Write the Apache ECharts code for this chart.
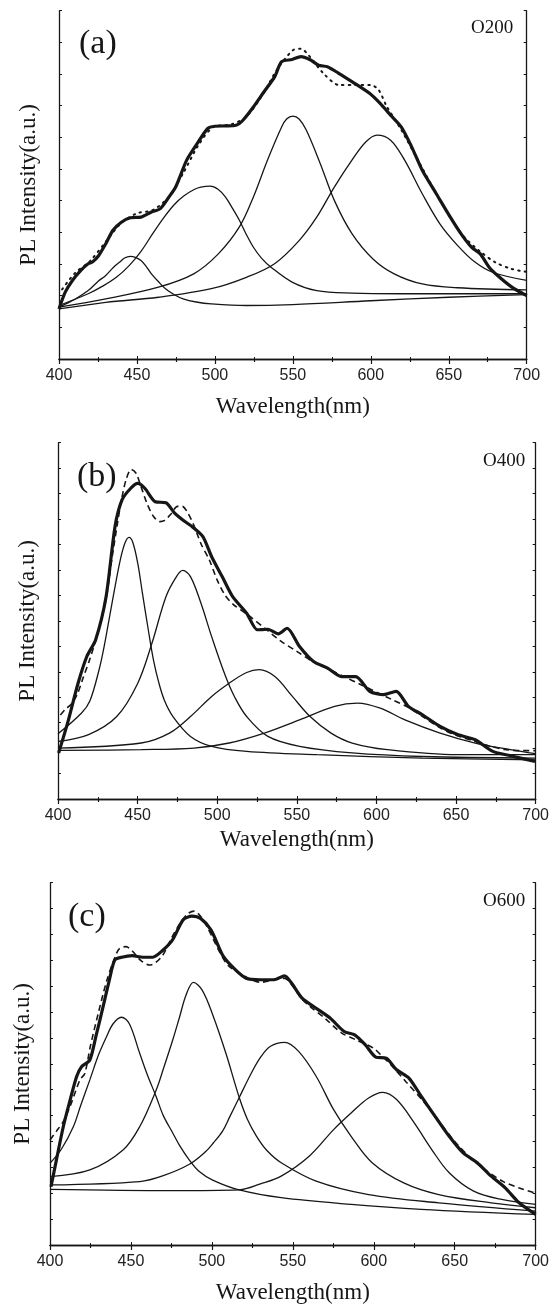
<!DOCTYPE html>
<html>
<head>
<meta charset="utf-8">
<script src="https://cdn.jsdelivr.net/npm/echarts@6/dist/echarts.min.js"></script>
<style>
html,body{margin:0;padding:0;background:#fff;}
#chart{width:552px;height:1305px;}
</style>
</head>
<body>
<div id="chart"></div>
<script>
// ---------- DATA (wavelength nm, PL intensity a.u.) ----------
const xTickLabels = [400, 450, 500, 550, 600, 650, 700];
const panelLabels = ['(a)', '(b)', '(c)'];
const sampleNames = ['O200', 'O400', 'O600'];
const yMaxes = [110, 140, 140];

// Panel (a) O200
const a_exp = [[400,15.8],[404,21.1],[408.6,24.8],[414,28.0],[418.7,30.1],[421.4,30.6],[425.5,32.7],[430,36.4],[434.5,40.6],[440,43.2],[445.8,44.6],[452.6,44.8],[459.3,46.4],[465,47.5],[470.6,51.2],[475,54.5],[481.9,62.8],[488.6,68.0],[495.4,72.8],[499.9,73.5],[506.7,73.6],[513.5,73.8],[518,75.4],[524.7,79.6],[531.5,84.4],[538.3,89.1],[542.8,93.9],[549.5,94.6],[555.2,95.5],[560.8,94.6],[566.5,92.8],[572.1,92.3],[578.9,90.4],[587.9,87.6],[599.2,83.9],[606,80.7],[612.7,77.0],[619.5,73.3],[626.2,67.0],[633,59.6],[642,52.2],[651,44.8],[657.8,39.6],[664.6,35.3],[670.2,33.2],[675.9,29.0],[682.6,25.8],[690.5,22.7],[700,20.0]];
const a_fit = [[402,22],[410,27],[420,31],[430,37],[440,43],[450,46],[460,47],[470,51],[480,59],[490,68],[500,73.5],[510,74],[520,76.5],[530,83],[540,91.5],[550,97.5],[555,98],[560,96],[570,90],[580,86.5],[590,86.5],[600,86.5],[605,85],[610,80],[620,72],[630,63],[640,54],[650,45.5],[660,38.5],[670,34],[680,30.5],[690,28.5],[700,27.5]];
const a_c1 = [[400,16.4],[410,18.8],[418.7,21.6],[425,24.5],[430,26.4],[435,29],[439,30.6],[442,31.9],[445.8,32.4],[449,32.1],[452.6,31.1],[456,29.2],[459.3,26.9],[464,24.3],[468.3,22.2],[474,20.3],[479.6,19.0],[488,18.0],[497.7,17.4],[520,16.9],[550,17.2],[600,18.4],[650,19.5],[700,20.3]];
const a_c2 = [[400,16.9],[418.7,20.6],[428,23],[436.8,25.8],[445,29.5],[452.6,34],[460,39.5],[467,44.5],[474,48.8],[480,51.5],[487,53.6],[491,54.3],[497,54.6],[502,53.6],[506.7,51.2],[511,47.8],[515.7,43.8],[520,39.5],[524.7,35.3],[530,31.8],[536,29.0],[549.5,24.3],[565.3,21.6],[587.9,20.8],[620,20.6],[700,20.6]];
const a_c3 = [[400,16.4],[430,19.0],[463.8,22.7],[486.4,26.9],[502.2,33.2],[515.7,41.7],[524.7,51.2],[533.7,62.8],[542.8,73.3],[546,75.8],[550,76.7],[554,75.8],[558.6,72.3],[567.6,61.7],[576.6,50.1],[587.9,39.6],[601.4,31.6],[615,26.9],[633,23.7],[655.6,22.5],[700,21.8]];
const a_c4 = [[400,15.8],[430,17.9],[463.8,19.5],[497.7,22.2],[520.2,25.8],[538.3,30.1],[554,37.4],[565.3,44.8],[576.6,54.3],[587.9,62.8],[596.9,68.6],[604,70.7],[612.7,69.1],[621.7,62.8],[633,52.2],[644.3,42.7],[655.6,35.9],[666.8,30.6],[678.1,27.4],[700,24.8]];

// Panel (b) O400
const b_exp = [[400.4,18.1],[406,29.8],[412.6,45.5],[418.1,56.0],[423.6,62.5],[430.2,79.5],[435.8,107.0],[440.2,117.5],[445.7,122.1],[450.1,124.0],[454.5,122.1],[461.1,116.8],[467.8,116.4],[473.3,112.3],[478.8,109.4],[484.3,107.0],[491,103.1],[496.5,95.2],[503.1,87.4],[509.7,79.5],[518.5,73.0],[525.2,66.5],[531.8,66.7],[538.4,64.9],[543.9,67.1],[551.7,59.9],[560.5,54.0],[569.3,51.4],[578.1,48.1],[587,48.1],[595.8,42.3],[604.6,41.0],[612.4,42.3],[620.1,36.4],[628.9,33.1],[640,28.5],[651,25.3],[662,23.3],[673.1,18.7],[684.1,17.0],[699.6,14.8]];
const b_fit = [[401.5,33],[405,35.5],[408,37],[412,41],[416,48],[420,55],[425,65],[430,78],[434,95],[437,107],[440,118],[443,126],[446,129.5],[449,128],[452,123],[456,116],[460,111],[464,109],[467,109.5],[471,112],[475,115],[478,115],[481,113],[485,108],[490,100],[495,94],[500,86],[505,80],[510,76.5],[520,72],[530,67],[540,62],[550,58],[560,54],[570,51],[580,48],[590,45],[600,42],[610,39],[620,36],[630,32],[640,28],[650,25],[660,23],[670,21],[680,19.5],[690,19],[700,19]];
const b_c1 = [[400,25.6],[414.8,33.8],[420,38.5],[425.8,50.8],[429,60],[432.4,71.7],[436,84],[439.1,93.9],[442,100.5],[444.6,102.8],[447,100.8],[450.1,92.6],[453,81],[456.7,66.5],[460,54.5],[463.4,45.5],[467,38.5],[472.2,32.4],[483.2,24.6],[496.5,20.7],[518.5,18.7],[562.7,17.4],[628.9,16.1],[700,15.4]];
const b_c2 = [[400,22.6],[419.2,25.3],[436.9,32.4],[450.1,45.5],[459,61.2],[467.8,79.5],[474.4,87.4],[478.4,89.8],[483.2,87.4],[489.8,76.9],[496.5,63.8],[505.3,48.1],[511,40],[518.5,32.4],[531.8,24.6],[551.7,20.7],[584.8,18.1],[628.9,16.7],[700,16.1]];
const b_c3 = [[400,20.0],[452.3,22.0],[470,25.9],[483.2,32.4],[496.5,40.3],[507.5,45.5],[518.5,49.7],[526.3,50.8],[536.2,48.1],[547.2,40.3],[558.3,32.4],[571.5,25.9],[584.8,22.0],[606.8,19.4],[651,17.4],[700,17.4]];
const b_c4 = [[400,19.1],[452.3,19.4],[485.4,20.0],[507.5,22.0],[529.6,25.9],[551.7,31.1],[573.7,36.4],[588.1,37.7],[602.4,35.7],[617.9,31.1],[640,25.9],[662,22.0],[684.1,19.4],[700,17.8]];

// Panel (c) O600
const c_exp = [[400.6,22.5],[404,33],[408.2,45.7],[412,55],[416.4,65.0],[419.5,68.9],[424.6,71.5],[428.5,81],[432.8,92.1],[436.5,102],[440,110.1],[444.3,111.2],[450.8,111.8],[457.3,111.2],[463.5,111.2],[469.2,113.6],[475.7,117.9],[482.2,125.6],[487.6,127.1],[493,126.2],[499.5,121.7],[507.1,111.5],[514.6,106.3],[521.1,103.1],[529.8,102.5],[538.4,102.5],[544.9,104.0],[549.2,101.2],[555.7,95.4],[564.4,91.5],[573,87.7],[581.7,82.5],[588.2,81.2],[594.7,77.4],[601.2,72.6],[607.7,72.2],[614.1,67.7],[621.7,64.5],[629.3,57.5],[637.9,49.7],[646.6,42.0],[655.2,35.6],[663.9,31.8],[672.5,26.6],[681.2,22.1],[689.8,16.3],[700,11.8]];
const c_fit = [[400,40.6],[404,44],[408,47.5],[412.3,53.4],[418.5,63.8],[421.5,66.3],[425,77],[430,90],[435,102],[440,111],[443,114.6],[447,115.3],[451,113.5],[456,110],[461.5,108.2],[465,109],[469.7,112],[475,118.5],[480,124],[485,128],[489,129],[493,127],[497,123],[501,118],[505,113],[510,108],[520,104],[530,101.5],[538,102.5],[545,103],[550,100],[555,95.5],[560,92.5],[570,87.5],[580,82],[590,79],[600,76],[605,73],[610,70],[620,63],[630,56],[640,48],[650,40],[660,33.5],[670,28.5],[680,24.5],[690,22],[700,20]];
const c_c1 = [[400,31.6],[407,37],[414.4,45.7],[419,54],[424.6,63.8],[430,73.5],[434.9,80.5],[439,85.5],[444.1,88.0],[449,85.5],[455.4,74.1],[460,66],[465.6,57.3],[470,50],[475.9,43.2],[480,38.5],[486.1,32.8],[492,28.5],[500.5,25.1],[516.9,21.3],[542.8,18.3],[586,15.7],[629.3,13.8],[700,11.8]];
const c_c2 = [[400,26.4],[424.6,29.0],[445.1,36.7],[455.4,45.7],[465.6,59.9],[470,68],[475.8,79.2],[480,88],[484,96.5],[488.6,101.5],[494,98.5],[500.5,89],[508.7,74],[516.9,57],[522,48.5],[527.6,42.0],[534,36.5],[542.8,31.8],[564.4,24.7],[596.8,19.5],[640.1,16.3],[700,13.1]];
const c_c3 = [[400,23.2],[455.4,24.5],[470,26.8],[486.1,31.2],[496,36],[501,39.5],[506.6,44],[511,49.5],[516.9,57],[524,66],[530,72.5],[536.2,76.8],[544.9,78.3],[553.6,74.8],[564.4,65.2],[575.2,52.3],[586,42.0],[599,31.8],[618.5,24.0],[640.1,19.5],[672.5,16.3],[700,14.4]];
const c_c4 = [[400,21.5],[475.8,21.0],[516.9,21.3],[530,23.6],[542.8,26.6],[560.1,34.3],[575.2,44.6],[586,51.0],[596.8,56.8],[605.5,59.0],[614.1,56.2],[625,47.2],[635.8,36.9],[646.6,27.9],[661.7,20.8],[679,17.6],[700,15.7]];

// ---------- LAYOUT ----------
const INK = '#161616';
const SERIF = '"Liberation Serif","Times New Roman",serif';
const SANS = '"Liberation Sans",Arial,sans-serif';
const grids = [
  {left: 59, right: 25.3, top: 10.7, height: 348.3},
  {left: 58, right: 16, top: 442.7, height: 356.3},
  {left: 50, right: 14.3, top: 882.7, height: 362.3}
];
const xNameGap = [36, 29, 36];
const yNameGap = [19, 19, 16];
const panelTextPos = [[98, 47], [96, 480], [87, 920]];
const samplePos = [[494, 29], [506, 462], [506, 902]];

const xAxes = [], yAxes = [], series = [], graphics = [];
grids.forEach((g, i) => {
  const common = {
    gridIndex: i, type: 'value', min: xTickLabels[0], max: xTickLabels[xTickLabels.length - 1], interval: 50,
    axisLine: {show: true, lineStyle: {color: INK, width: 1.3}},
    splitLine: {show: false}, minorSplitLine: {show: false}
  };
  xAxes.push(Object.assign({}, common, {
    position: 'bottom',
    axisTick: {show: true, inside: false, length: 5, lineStyle: {color: INK, width: 1.2}},
    minorTick: {show: true, splitNumber: 2, length: 3, lineStyle: {color: INK, width: 1.2}},
    axisLabel: {show: true, fontFamily: SANS, fontSize: 16, color: '#222', margin: 9},
    name: 'Wavelength(nm)', nameLocation: 'middle', nameGap: xNameGap[i],
    nameTextStyle: {fontFamily: SERIF, fontSize: 23, color: INK}
  }));
  xAxes.push(Object.assign({}, common, {
    position: 'top',
    axisTick: {show: true, inside: false, length: 3, lineStyle: {color: INK, width: 1}},
    minorTick: {show: true, splitNumber: 2, length: 2, lineStyle: {color: INK, width: 1}},
    axisLabel: {show: false}
  }));
  const ycommon = {
    gridIndex: i, type: 'value', min: 0, max: yMaxes[i], interval: 10,
    axisLine: {show: true, lineStyle: {color: INK, width: 1.3}},
    axisTick: {show: true, inside: true, length: 3, lineStyle: {color: INK, width: 1}},
    axisLabel: {show: false}, splitLine: {show: false}
  };
  yAxes.push(Object.assign({}, ycommon, {
    position: 'left', name: 'PL Intensity(a.u.)', nameLocation: 'middle', nameGap: yNameGap[i],
    nameTextStyle: {fontFamily: SERIF, fontSize: 23, color: INK}
  }));
  yAxes.push(Object.assign({}, ycommon, {position: 'right'}));
  graphics.push({type: 'text', left: panelTextPos[i][0] - 19, top: panelTextPos[i][1] - 20,
    style: {text: panelLabels[i], font: '34px ' + SERIF, fill: INK}});
  graphics.push({type: 'text', left: samplePos[i][0] - 23, top: samplePos[i][1] - 10,
    style: {text: sampleNames[i], font: '19px ' + SERIF, fill: INK}});
});

function addLine(data, gi, kind) {
  const s = {
    type: 'line', data: data, xAxisIndex: gi * 2, yAxisIndex: gi * 2,
    showSymbol: false, symbol: 'none', silent: true, animation: false, z: 3
  };
  if (kind === 'exp') { s.smooth = 0.25; s.lineStyle = {color: INK, width: 3.2}; s.z = 5; }
  else if (kind === 'dot') { s.smooth = 0.3; s.lineStyle = {color: INK, width: 2, type: [1.5, 5], cap: 'round'}; s.z = 4; }
  else if (kind === 'dash') { s.smooth = 0.3; s.lineStyle = {color: INK, width: 1.6, type: [6, 4]}; s.z = 4; }
  else { s.smooth = 0.35; s.lineStyle = {color: INK, width: 1.3}; }
  series.push(s);
}
[a_c1, a_c2, a_c3, a_c4].forEach(d => addLine(d, 0, 'comp'));
addLine(a_fit, 0, 'dot');
addLine(a_exp, 0, 'exp');
[b_c1, b_c2, b_c3, b_c4].forEach(d => addLine(d, 1, 'comp'));
addLine(b_fit, 1, 'dash');
addLine(b_exp, 1, 'exp');
[c_c1, c_c2, c_c3, c_c4].forEach(d => addLine(d, 2, 'comp'));
addLine(c_fit, 2, 'dash');
addLine(c_exp, 2, 'exp');

const chart = echarts.init(document.getElementById('chart'), null, {renderer: 'canvas'});
chart.setOption({
  animation: false,
  backgroundColor: '#fff',
  grid: grids,
  xAxis: xAxes,
  yAxis: yAxes,
  series: series,
  graphic: graphics
});
</script>
</body>
</html>
